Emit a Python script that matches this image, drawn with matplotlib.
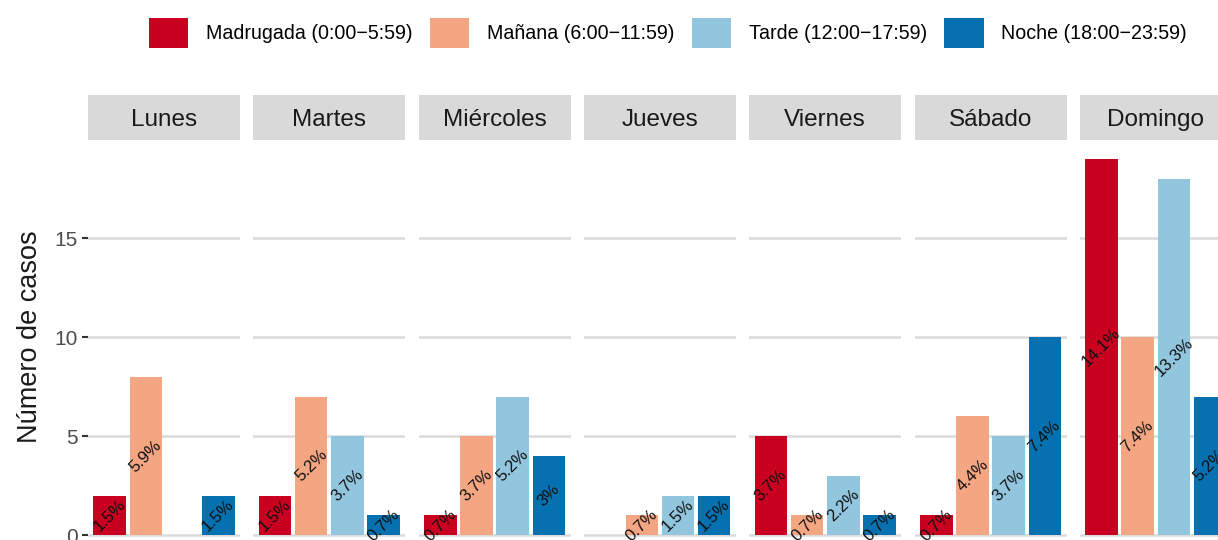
import matplotlib
matplotlib.use("Agg")
from matplotlib import pyplot as plt
from matplotlib.patches import Patch
import numpy as np

plt.rcParams['font.family'] = ['Liberation Sans', 'DejaVu Sans']

dias = ["Lunes", "Martes", "Miércoles", "Jueves", "Viernes", "Sábado", "Domingo"]
franjas = ["Madrugada (0:00\u22125:59)", "Mañana (6:00\u221211:59)",
           "Tarde (12:00\u221217:59)", "Noche (18:00\u221223:59)"]
colores = ["#CA0020", "#F4A582", "#92C5DE", "#0571B0"]

# casos por dia, en orden: madrugada, mañana, tarde, noche
madrugada = [2, 2, 1, 0, 5, 1, 19]
manana = [8, 7, 5, 1, 1, 6, 10]
tarde = [0, 5, 7, 2, 3, 5, 18]
noche = [2, 1, 4, 2, 1, 10, 7]

casos = np.array([madrugada, manana, tarde, noche])
total = casos.sum()

W, H = 1218, 540
fig = plt.figure(figsize=(W / 100, H / 100), dpi=100)

def px(x0, y0, w, h):
    # pixel box (top-left origin) -> figure fraction
    return [x0 / W, 1 - (y0 + h) / H, w / W, h / H]

ymax = casos.max()
ylo, yhi = -0.05 * ymax, ymax * 1.05
top, step, pw = 140, 165.3, 152
bottom = 554

for i, dia in enumerate(dias):
    x0 = 88 + i * step
    ax = fig.add_axes(px(x0, top, pw, bottom - top))
    vals = casos[:, i]
    xs = np.arange(1, 5)
    ax.bar(xs, vals, width=0.9, color=colores, zorder=2)
    for x, v in zip(xs, vals):
        if v > 0:
            pct = v / total * 100
            txt = f"{pct:.1f}".rstrip("0").rstrip(".") + "%"
            ax.text(x, v / 2, txt, rotation=45, ha="center", va="center",
                    fontsize=12, color="#111111", zorder=3)
    ax.set_xlim(0.4, 4.6)
    ax.set_ylim(ylo, yhi)
    ax.set_yticks([0, 5, 10, 15])
    ax.yaxis.grid(True, color="#DADADA", linewidth=1.8, zorder=0)
    ax.set_xticks([])
    for s in ax.spines.values():
        s.set_visible(False)
    ax.tick_params(axis="y", length=4, width=1.5, color="#333333",
                   labelsize=15, labelcolor="#4D4D4D", pad=3.5)
    if i > 0:
        ax.tick_params(axis="y", length=0, labelleft=False)

    sax = fig.add_axes(px(x0, 95, pw, 45))
    sax.set_facecolor("#D9D9D9")
    sax.set_xticks([])
    sax.set_yticks([])
    for s in sax.spines.values():
        s.set_visible(False)
    sax.text(0.5, 0.5, dia, ha="center", va="center_baseline", fontsize=17.5,
             color="#1a1a1a", transform=sax.transAxes)

fig.text(30 / W, 1 - 337 / H, "Número de casos", rotation=90, ha="center",
         va="center", fontsize=19.5, color="#1a1a1a")

handles = [Patch(facecolor=c, label=l) for c, l in zip(colores, franjas)]
fig.legend(handles=handles, loc="center", bbox_to_anchor=(668 / W, 1 - 33 / H),
           ncol=4, frameon=False, fontsize=14.1, handlelength=2.0,
           handleheight=2.0, handletextpad=0.9, columnspacing=0.9)

fig.savefig("out.png", dpi=100)
